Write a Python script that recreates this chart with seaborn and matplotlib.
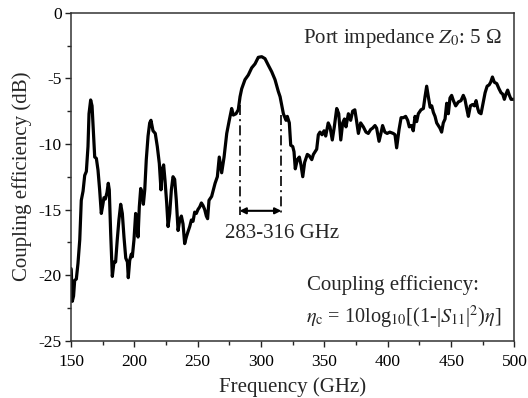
import numpy as np
import pandas as pd
import matplotlib
matplotlib.use("Agg")
import matplotlib.pyplot as plt
from matplotlib.ticker import MultipleLocator
import seaborn as sns

# ---- data ----
freq_ghz = [
    150.0, 150.2, 151.0, 152.0, 152.9, 154.2, 155.5, 156.9, 158.1, 159.5, 160.8, 162.1, 163.4, 164.2,
    165.5, 166.6, 167.6, 168.7, 170.0, 171.3, 172.6, 173.9, 175.0, 176.0, 177.1, 178.4, 179.4, 180.2,
    181.3, 182.6, 183.9, 185.2, 186.5, 187.8, 189.2, 190.5, 191.8, 193.2, 194.5, 195.2, 196.3, 197.6,
    198.4, 199.7, 201.0, 202.1, 202.9, 203.9, 205.0, 206.1, 207.1, 208.2, 209.4, 210.8, 212.1, 213.1,
    214.7, 216.5, 218.1, 219.7, 221.0, 222.1, 223.1, 224.2, 225.5, 226.6, 227.9, 229.2, 230.5, 231.8,
    233.1, 234.5, 235.8, 237.1, 238.4, 239.7, 241.0, 242.3, 243.7, 245.0, 246.3, 247.6, 248.9, 250.2,
    251.6, 252.9, 254.2, 255.5, 256.8, 257.8, 258.9, 261.0, 263.7, 265.5, 267.0, 268.9, 270.8, 272.9,
    274.9, 276.8, 278.1, 280.2, 282.0, 283.4, 284.7, 287.3, 289.9, 292.6, 295.2, 297.8, 300.5, 303.1,
    305.7, 308.4, 311.0, 313.6, 315.0, 317.6, 319.7, 320.7, 322.3, 323.4, 325.0, 326.0, 327.0, 328.6,
    330.2, 331.5, 332.9, 334.4, 336.5, 338.0, 340.0, 341.3, 342.6, 343.9, 345.2, 346.5, 348.1, 349.7,
    351.0, 353.0, 354.4, 356.2, 357.8, 359.7, 361.3, 362.9, 364.4, 365.8, 367.0, 368.9, 370.7, 372.3,
    374.0, 375.3, 376.8, 378.6, 380.7, 382.8, 384.6, 386.5, 388.0, 389.9, 391.2, 393.1, 394.6, 395.9,
    397.7, 399.5, 401.6, 404.3, 405.7, 407.0, 408.9, 410.5, 412.3, 414.1, 415.7, 417.0, 418.8, 420.1,
    421.5, 422.8, 424.1, 426.2, 428.1, 429.4, 430.7, 432.0, 433.4, 434.7, 436.0, 437.3, 438.6, 439.9,
    441.2, 442.5, 443.8, 445.2, 446.5, 447.8, 449.1, 450.4, 451.8, 453.6, 455.7, 457.8, 459.6, 460.9,
    462.3, 463.6, 465.2, 466.8, 468.4, 469.7, 471.0, 472.0, 473.6, 475.2, 476.8, 478.4, 480.0, 481.2,
    482.6, 484.1, 486.0, 487.8, 489.4, 490.7, 492.0, 493.3, 494.6, 496.0, 497.3, 499.1, 500.0,
]
coupling_db = [
    -19.5, -19.6, -22.0, -21.6, -20.4, -20.3, -19.1, -17.3, -14.3, -13.6, -12.4, -12.1, -10.2, -7.7,
    -6.65, -7.1, -8.9, -11.0, -11.1, -12.0, -13.5, -15.3, -14.7, -14.1, -14.2, -13.7, -13.0, -13.5,
    -16.8, -20.1, -19.0, -19.0, -17.3, -15.8, -14.6, -15.3, -17.1, -18.7, -19.0, -20.2, -18.9, -18.4,
    -18.6, -17.3, -15.3, -16.0, -17.1, -14.8, -13.4, -13.8, -14.6, -13.5, -11.2, -9.4, -8.4, -8.2,
    -9.0, -9.2, -10.2, -11.5, -13.5, -11.9, -11.6, -12.8, -14.5, -16.3, -15.3, -13.5, -12.5, -12.7,
    -14.3, -16.6, -15.8, -15.5, -16.1, -17.6, -17.1, -16.7, -16.3, -15.8, -15.9, -15.2, -15.3, -15.0,
    -14.8, -14.5, -14.7, -15.0, -15.5, -15.7, -14.3, -14.0, -13.0, -12.5, -11.0, -12.2, -11.0, -9.2,
    -8.2, -7.3, -7.8, -7.7, -7.4, -6.4, -5.8, -5.1, -4.75, -4.2, -3.9, -3.4, -3.35, -3.5,
    -4.0, -4.5, -5.1, -6.0, -6.4, -7.7, -8.2, -7.9, -8.4, -10.1, -10.2, -10.6, -11.9, -11.2,
    -11.0, -11.6, -12.5, -11.4, -10.8, -10.9, -11.2, -10.8, -10.6, -10.4, -9.3, -9.1, -9.3, -9.0,
    -9.4, -8.4, -8.7, -9.7, -8.7, -7.3, -7.7, -9.7, -8.4, -8.1, -8.7, -7.7, -8.2, -7.5,
    -7.4, -8.2, -9.2, -8.4, -8.7, -9.1, -9.2, -8.9, -8.8, -8.6, -8.8, -9.8, -9.2, -8.6,
    -9.1, -9.2, -9.1, -9.2, -9.3, -10.3, -8.9, -8.0, -8.0, -7.9, -8.2, -8.7, -8.6, -9.0,
    -7.9, -8.3, -7.7, -7.4, -7.3, -6.4, -5.6, -6.4, -7.2, -7.1, -7.6, -7.9, -8.4, -8.6,
    -8.8, -9.1, -8.4, -8.1, -6.9, -7.7, -6.5, -6.3, -6.7, -7.1, -6.8, -6.7, -6.3, -6.6,
    -7.3, -7.9, -7.1, -7.0, -7.1, -6.7, -7.3, -7.6, -7.7, -6.9, -6.1, -5.6, -5.5, -5.3,
    -4.9, -5.3, -5.4, -5.8, -6.1, -6.2, -6.6, -6.2, -5.9, -6.3, -6.6, -6.6, -6.6,
]
band_edges_ghz = [283, 316]
band_tops_db = [-7.0, -7.8]
band_arrow_db = -15.1
band_bottom_db = -15.4
band_label = "283-316 GHz"
x_ticks = [150, 200, 250, 300, 350, 400, 450, 500]
y_ticks = [-25, -20, -15, -10, -5, 0]

df = pd.DataFrame({"Frequency": freq_ghz, "Coupling": coupling_db})

sns.set_style("ticks")
plt.rcParams["font.family"] = ["Liberation Serif", "DejaVu Serif"]
plt.rcParams["mathtext.fontset"] = "stix"
plt.rcParams["axes.unicode_minus"] = False

fig = plt.figure(figsize=(5.28, 3.98), dpi=100)
ax = fig.add_axes([0.1345, 0.144, 0.9744 - 0.1345, 0.968 - 0.144])

sns.lineplot(data=df, x="Frequency", y="Coupling", ax=ax, color="black",
             linewidth=2.3, sort=False, estimator=None)

# band markers
for xe, yt in zip(band_edges_ghz, band_tops_db):
    ax.plot([xe, xe], [yt, band_bottom_db], color="black", lw=1.2,
            linestyle=(0, (6, 2.5, 1.2, 2.5)))
ax.annotate("", xy=(band_edges_ghz[1], band_arrow_db), xytext=(band_edges_ghz[0], band_arrow_db),
            arrowprops=dict(arrowstyle="<|-|>", color="black", lw=1.5,
                            mutation_scale=9, shrinkA=0, shrinkB=0))
ax.text(271.5, -16.85, band_label, fontsize=15, ha="left", va="center")

ax.text(0.972, 0.922, r"Port impedance $Z_0$: 5 Ω", transform=ax.transAxes,
        fontsize=15, ha="right", va="center")
ax.text(0.533, 0.171, "Coupling efficiency:", transform=ax.transAxes,
        fontsize=15, ha="left", va="center")
ax.text(0.530, 0.070, r"$\eta_{\rm c}$ = 10log$_{10}$[(1-|$S_{11}$|$^2$)$\eta$]",
        transform=ax.transAxes, fontsize=14.6, ha="left", va="center")

ax.set_xlim(150, 500)
ax.set_ylim(-25, 0)
ax.set_xticks(x_ticks)
ax.set_yticks(y_ticks)
ax.xaxis.set_minor_locator(MultipleLocator(25))
ax.yaxis.set_minor_locator(MultipleLocator(2.5))
ax.tick_params(axis="both", which="major", direction="out", length=4.5, width=1.0,
               labelsize=12.5, colors="#222222", labelcolor="black")
ax.tick_params(axis="x", which="major", pad=5)
ax.tick_params(axis="y", which="major", pad=2)
ax.tick_params(axis="both", which="minor", direction="out", length=3, width=1.0, colors="#222222")
for s in ax.spines.values():
    s.set_visible(True)
    s.set_linewidth(1.1)
    s.set_color("#333333")

ax.set_xlabel("Frequency (GHz)", fontsize=15, labelpad=5)
ax.set_ylabel("Coupling efficiency (dB)", fontsize=15, labelpad=5)

fig.savefig("out.png", dpi=100)
